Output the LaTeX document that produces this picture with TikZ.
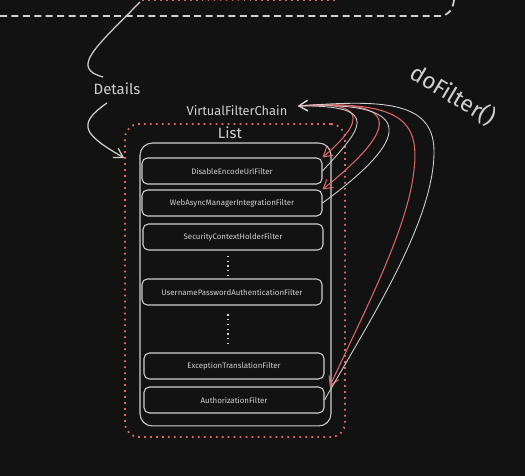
\documentclass[tikz,border=0pt]{standalone}
\usepackage{fontspec}
\setmainfont{Fira Sans}
\usetikzlibrary{arrows.meta}
\definecolor{bgdark}{HTML}{121212}
\definecolor{sketchred}{HTML}{E06666}
\definecolor{sketchwhite}{HTML}{D0D0D0}
\begin{document}
\begin{tikzpicture}[x=0.02cm,y=-0.02cm,
  >={Straight Barb[length=5pt,width=6pt]},
  every node/.style={text=sketchwhite},
  filterbox/.style={draw=sketchwhite,line width=0.6pt,rounded corners=3pt,minimum width=3.6cm,minimum height=0.52cm,inner sep=0pt,font=\fontsize{4.5}{5}\selectfont},
  callline/.style={->,sketchred,line width=0.6pt},
  backline/.style={->,sketchwhite,line width=0.5pt},
  reddots/.style={draw=sketchred,line width=1pt,dash pattern=on 1pt off 2.4pt}]
\fill[bgdark] (0,0) rectangle (525,476);
\useasboundingbox (0,0) rectangle (525,476);
% upper block, cut off by the page edge
\draw[reddots] (142,0.5) -- (338,0.5);
\draw[sketchwhite,line width=1pt,dash pattern=on 4pt off 2.5pt] (0,16) -- (440,16) .. controls (450,15) and (453,8) .. (454,0);
\coordinate (up) at (140,2);
\node[font=\fontsize{8.5}{10}\selectfont] (details) at (117,89) {Details};
\draw[sketchwhite,line width=0.7pt] (up) .. controls (95,48) and (70,68) .. (103,77);
% chain container
\node[reddots,rounded corners=8pt,minimum width=4.4cm,minimum height=6.26cm] (chainbox) at (235,280.5) {};
\draw[->,sketchwhite,line width=0.7pt] (107,103) .. controls (75,125) and (85,135) .. (chainbox.west |- 0,158);
\node[font=\fontsize{7.3}{9}\selectfont] (chain) at (237,111) {VirtualFilterChain};
\node[font=\fontsize{8.5}{10}\selectfont] (listlbl) at (230,133) {List};
\node[draw=sketchwhite,line width=0.6pt,rounded corners=7pt,minimum width=3.82cm,minimum height=5.66cm] (list) at (235.5,284.5) {};
% filters
\node[filterbox] (f1) at (232,171) {DisableEncodeUrlFilter};
\node[filterbox] (f2) at (232,203) {WebAsyncManagerIntegrationFilter};
\node[filterbox] (f3) at (233,237) {SecurityContextHolderFilter};
\node[filterbox] (f4) at (232,292) {UsernamePasswordAuthenticationFilter};
\node[filterbox] (f5) at (234,366) {ExceptionTranslationFilter};
\node[filterbox] (f6) at (234,400) {AuthorizationFilter};
\draw[sketchwhite,line width=0.7pt,dash pattern=on 0.7pt off 2pt,shorten <=3pt,shorten >=2pt] (f3.south -| 228,0) -- (f4.north -| 228,0);
\draw[sketchwhite,line width=0.7pt,dash pattern=on 0.7pt off 2pt,shorten <=5pt,shorten >=3pt] (f4.south -| 228,0) -- (f5.north -| 228,0);
% doFilter() calls and returns
\coordinate (cin) at (298,106);
\draw[callline] (cin) .. controls (350,102) and (378,110) .. (f1.north east);
\draw[backline] (f1.east) .. controls (360,130) and (385,105) .. (cin);
\draw[callline] (cin) .. controls (385,100) and (415,115) .. (f2.north east);
\draw[backline] (f2.east) .. controls (395,150) and (435,100) .. (cin);
\draw[callline] (cin) .. controls (400,100) and (420,120) .. (414,170) .. controls (408,230) and (360,320) .. ([xshift=3pt]f6.north east);
\draw[backline] (f6.east) .. controls (370,320) and (435,220) .. (434,150) .. controls (433,100) and (380,100) .. (cin);
\node[rotate=-31,font=\fontsize{13}{15}\selectfont] (dofilter) at (453,95) {doFilter()};
\end{tikzpicture}
\end{document}
